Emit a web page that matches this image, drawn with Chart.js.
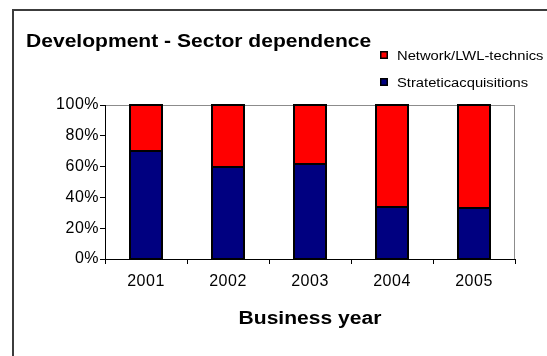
<!DOCTYPE html>
<html>
<head>
<meta charset="utf-8">
<script src="https://cdn.jsdelivr.net/npm/chart.js@4"></script>
<style>
html,body{margin:0;padding:0;background:#fff;}
#wrap{position:relative;width:547px;height:356px;}
canvas{display:block;}
</style>
</head>
<body>
<div id="wrap"><canvas id="c" width="547" height="356"></canvas></div>
<script>
const chartTitle = "Development - Sector dependence";
const xAxisTitle = "Business year";
const categories = ["2001", "2002", "2003", "2004", "2005"];
const seriesNames = ["Strateticacquisitions", "Network/LWL-technics"];
const strategicValues = [70, 60, 62, 34, 33];
const networkValues = [30, 40, 38, 66, 67];
const yTicks = [0, 20, 40, 60, 80, 100];
const colors = { strategic: "#000080", network: "#FF0000" };

const FONT = "'Liberation Sans', Arial, sans-serif";
const STRETCH = 1.17;

function stretchedText(ctx, text, x, y, font, align, stretch) {
  const k = stretch || STRETCH;
  ctx.save();
  ctx.font = font;
  ctx.fillStyle = "#000";
  ctx.textBaseline = "alphabetic";
  const w = ctx.measureText(text).width * k;
  let sx = x;
  if (align === "center") sx = x - w / 2;
  ctx.translate(sx, y);
  ctx.scale(k, 1);
  ctx.textAlign = "left";
  ctx.fillText(text, 0, 0);
  ctx.restore();
}

const decor = {
  id: "decor",
  beforeDraw(chart) {
    const ctx = chart.ctx;
    const a = chart.chartArea;
    ctx.save();
    ctx.fillStyle = "#fff";
    ctx.fillRect(0, 0, chart.width, chart.height);
    ctx.strokeStyle = "#3c3c3c";
    ctx.lineWidth = 2;
    ctx.beginPath();
    ctx.moveTo(13, 356);
    ctx.lineTo(13, 10);
    ctx.lineTo(547, 10);
    ctx.stroke();
    ctx.strokeStyle = "#8c8c8c";
    ctx.lineWidth = 1;
    ctx.strokeRect(a.left + 0.5, a.top + 0.5, a.right - a.left - 1, a.bottom - a.top);
    ctx.restore();
    ctx.letterSpacing = "0.5px";
  },
  afterDatasetsDraw(chart) {
    // black outline around every bar segment, from the library's element geometry
    const ctx = chart.ctx;
    ctx.save();
    ctx.strokeStyle = "#000";
    ctx.lineWidth = 2;
    chart.data.datasets.forEach((ds, i) => {
      chart.getDatasetMeta(i).data.forEach(el => {
        const p = el.getProps(["x", "y", "base", "width"], true);
        const l = Math.round(p.x - p.width / 2);
        const r = Math.round(p.x + p.width / 2);
        const t = Math.round(Math.min(p.y, p.base));
        const b = Math.round(Math.max(p.y, p.base));
        ctx.strokeRect(l, t, r - l, b - t);
      });
    });
    ctx.restore();
  },
  afterDraw(chart) {
    const ctx = chart.ctx;
    ctx.letterSpacing = "0px";
    stretchedText(ctx, chartTitle, 26, 47, "bold 18px " + FONT, "left");
    const items = [
      { name: seriesNames[1], color: colors.network, y: 55 },
      { name: seriesNames[0], color: colors.strategic, y: 82 }
    ];
    items.forEach(it => {
      ctx.save();
      ctx.fillStyle = it.color;
      ctx.fillRect(380, it.y - 4, 8, 8);
      ctx.strokeStyle = "#000";
      ctx.lineWidth = 1.5;
      ctx.strokeRect(380.75, it.y - 3.25, 6.5, 6.5);
      ctx.restore();
      stretchedText(ctx, it.name, 397, it.y + 4.5, "12.5px " + FONT, "left", 1.18);
    });
    const a = chart.chartArea;
    stretchedText(ctx, xAxisTitle, (a.left + a.right) / 2, 324, "bold 18px " + FONT, "center");
  }
};

new Chart(document.getElementById("c"), {
  type: "bar",
  data: {
    labels: categories,
    datasets: [
      {
        label: seriesNames[0],
        data: strategicValues,
        backgroundColor: colors.strategic,
        borderWidth: 0,
        barPercentage: 0.39,
        categoryPercentage: 1
      },
      {
        label: seriesNames[1],
        data: networkValues,
        backgroundColor: colors.network,
        borderWidth: 0,
        barPercentage: 0.39,
        categoryPercentage: 1
      }
    ]
  },
  options: {
    responsive: false,
    animation: false,
    devicePixelRatio: 1,
    layout: { padding: { top: 105, right: 32, left: 0, bottom: 0 } },
    plugins: {
      legend: { display: false },
      title: { display: false },
      tooltip: { enabled: false }
    },
    scales: {
      x: {
        stacked: true,
        grid: { drawOnChartArea: false, drawTicks: true, tickLength: 5, color: "#000", offset: true },
        border: { color: "#000", width: 1 },
        ticks: { color: "#000", font: { family: FONT, size: 16 }, padding: 8, maxRotation: 0 },
        afterFit(s) { s.height = 97; }
      },
      y: {
        stacked: true,
        min: 0,
        max: 100,
        afterBuildTicks(s) { s.ticks = yTicks.map(v => ({ value: v })); },
        grid: { drawOnChartArea: false, drawTicks: true, tickLength: 5, color: "#000" },
        border: { color: "#000", width: 1 },
        ticks: { color: "#000", font: { family: FONT, size: 16 }, padding: 1, callback: v => v + "%" },
        afterFit(s) { s.width = 105; }
      }
    }
  },
  plugins: [decor]
});
</script>
</body>
</html>
